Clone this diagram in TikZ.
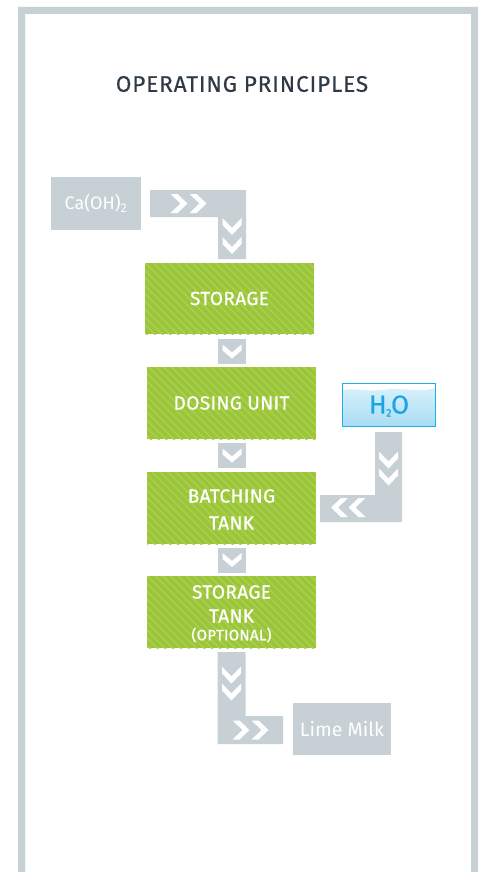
\documentclass[tikz,border=0pt]{standalone}
\usepackage{fontspec}
\setmainfont{Fira Sans}
\newfontfamily\boxfont{Fira Sans}[FakeBold=0.6, LetterSpace=2]
\newfontfamily\titlefont{Fira Sans}[FakeBold=0.3, LetterSpace=4]
\usetikzlibrary{patterns.meta}
\definecolor{grayc}{HTML}{C7D0D5}
\definecolor{limeg}{HTML}{9CC63A}
\definecolor{stripeg}{HTML}{AAD052}
\definecolor{titlec}{HTML}{2E3A46}
\definecolor{cyanb}{HTML}{1DB0E8}
\definecolor{watertop}{HTML}{DDF3FC}
\definecolor{waterbot}{HTML}{A8DCF4}
\definecolor{h2oc}{HTML}{18A6E2}
\begin{document}
\begin{tikzpicture}[x=1pt,y=-1pt,
  greenbox/.style={fill=limeg, postaction={pattern={Lines[angle=-45,distance=5.5pt,line width=1.4pt]}, pattern color=stripeg}, minimum width=169pt, minimum height=72pt, inner sep=0pt, text=white, align=center, font=\boxfont\fontsize{19}{24}\selectfont},
  graybox/.style={fill=grayc, inner sep=0pt, text=white},
  boxtext/.style={text=white, inner sep=0pt, font=\boxfont\fontsize{19}{22}\selectfont},
  bar/.style={fill=grayc},
  pics/chev/.style={code={\fill[white] (-8.5,-9.5) -- (-1.5,-9.5) -- (8.5,0) -- (-1.5,9.5) -- (-8.5,9.5) -- (1.5,0) -- cycle;}},
  pics/chevsmall/.style={code={\fill[white] (-7,-9.5) -- (-1,-9.5) -- (7,0) -- (-1,9.5) -- (-7,9.5) -- (1,0) -- cycle;}},
]
\fill[white] (0,0) rectangle (482,872);
\useasboundingbox (0,0) rectangle (482,872);
% frame
\fill[grayc] (18,872) -- (18,7) -- (478,7) -- (478,872) -- (471,872) -- (471,14) -- (25,14) -- (25,872) -- cycle;
% title
\node[text=titlec, font=\titlefont\fontsize{22.5}{26}\selectfont, inner sep=0pt] (title) at (242,84) {OPERATING PRINCIPLES};
% input
\node[graybox, minimum width=90pt, minimum height=53pt, font=\fontsize{18}{20}\selectfont] (caoh) at (96,203.5) {Ca(OH)\textsubscript{2}};
% green boxes
\node[greenbox, minimum height=71pt] (storage) at (229.5,298.5) {STORAGE};
\node[greenbox] (dosing) at (231.5,403) {DOSING UNIT};
\node[greenbox] (batching) at (231.5,508) {};
\node[boxtext] (batch1) at (231.5,496) {BATCHING};
\node[boxtext] (batch2) at (231.5,523) {TANK};
\node[greenbox] (stank) at (231.5,612) {};
\node[boxtext] (stank1) at (231.5,592) {STORAGE};
\node[boxtext] (stank2) at (231.5,616) {TANK};
\node[boxtext, font=\boxfont\fontsize{15}{16}\selectfont] (stank3) at (231.5,635) {(OPTIONAL)};
% water
\node[top color=watertop, bottom color=waterbot, minimum width=93pt, minimum height=43pt, inner sep=0pt, outer sep=0pt] (water) at (389,405) {};
\fill[white] (342.5,383.5) -- (435.5,383.5) -- (435.5,388) .. controls (418,393) and (402,387) .. (386,389.5) .. controls (370,392) and (356,388) .. (342.5,390) -- cycle;
\draw[cyanb, line width=1.2pt] (water.north west) rectangle (water.south east);
\node[text=h2oc, font=\boxfont\fontsize{26}{28}\selectfont, inner sep=0pt] (h2o) at (389,406) {H\kern-0.5pt\raisebox{-3pt}{\fontsize{11}{12}\selectfont 2}\kern-0.5ptO};
% output
\node[graybox, minimum width=98pt, minimum height=52pt, font=\fontsize{19.5}{22}\selectfont] (lime) at (342,729) {Lime Milk};
% connectors
\fill[bar] (150,190) -- (246,190) -- (246,259) -- (218,259) -- (218,217) -- (150,217) -- cycle;
\pic at (179,203.5) {chev};
\pic at (198,203.5) {chev};
\pic[rotate=-90] at (232,226.5) {chev};
\pic[rotate=-90] at (232,245.5) {chev};

\node[graybox, minimum width=28pt, minimum height=25pt] (c1) at (232,351.5) {};
\pic[rotate=-90] at (c1.center) {chevsmall};
\node[graybox, minimum width=28pt, minimum height=25pt] (c2) at (232,455.5) {};
\pic[rotate=-90] at (c2.center) {chevsmall};
\node[graybox, minimum width=28pt, minimum height=25pt] (c3) at (232,560) {};
\pic[rotate=-90] at (c3.center) {chevsmall};

\fill[bar] (375,432) -- (402,432) -- (402,522) -- (320,522) -- (320,495) -- (375,495) -- cycle;
\pic[rotate=-90] at (388.5,460) {chev};
\pic[rotate=-90] at (388.5,477) {chev};
\pic[rotate=180] at (339.5,507.5) {chev};
\pic[rotate=180] at (357,507.5) {chev};

\fill[bar] (217.5,652) -- (245.5,652) -- (245.5,716) -- (283,716) -- (283,744) -- (217.5,744) -- cycle;
\pic[rotate=-90] at (231.5,675) {chev};
\pic[rotate=-90] at (231.5,692) {chev};
\pic at (241,730) {chev};
\pic at (260,730) {chev};
\end{tikzpicture}
\end{document}
